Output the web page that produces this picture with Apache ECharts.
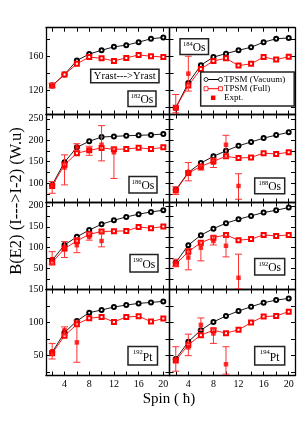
<!DOCTYPE html>
<html><head><meta charset="utf-8">
<script src="https://cdn.jsdelivr.net/npm/echarts@6/dist/echarts.min.js"></script>
<style>html,body{margin:0;padding:0;background:#fff}#c{width:299px;height:423px}</style>
</head><body><div id="c"></div>
<script>
// ---------- data ----------
const spins = [2, 4, 6, 8, 10, 12, 14, 16, 18, 20];
const xTickLabels = [4, 8, 12, 16, 20];
const nucleusMass = ['182', '184', '186', '188', '190', '192', '192', '194'];
const nucleusElem = ['Os', 'Os', 'Os', 'Os', 'Os', 'Os', 'Pt', 'Pt'];

const vac182 = [126, 139, 155.5, 163, 167.5, 171.5, 173.5, 177, 181, 182.5];
const full182 = [126, 139, 151.5, 159.5, 158, 155, 158.5, 162, 160.5, 159.5];
const exSpin182 = [2], exVal182 = [126], exLo182 = [123.5], exHi182 = [128.5];

const vac184 = [100, 129, 150, 159.5, 163.5, 167.5, 171, 177, 181, 182];
const full184 = [100, 126, 145.5, 155, 158, 149.5, 151.5, 159.5, 156.5, 160];
const exSpin184 = [2, 4], exVal184 = [99.5, 140], exLo184 = [94, 119.5], exHi184 = [115.5, 160.5];

const vac186 = [96, 149, 183.5, 197.5, 207.5, 209, 210.5, 211.5, 212.5, 214.5];
const full186 = [93.5, 143, 170, 176.5, 182, 179, 179.5, 182.5, 179.5, 183.5];
const exSpin186 = [2, 4, 6, 8, 10, 12], exVal186 = [92, 136.5, 184, 175.5, 189.5, 172];
const exLo186 = [76.5, 96, 176.5, 165, 152, 111], exHi186 = [104, 166, 192, 186, 234, 182];

const vac188 = [84.5, 125, 147, 162.5, 175.5, 187, 196, 205, 212, 218.5];
const full188 = [83, 123.5, 139, 151, 162.5, 158.5, 160, 170, 168, 172];
const exSpin188 = [2, 4, 6, 8, 10, 12], exVal188 = [83, 123.5, 135, 148, 189.5, 93.5];
const exLo188 = [73.5, 105.5, 131, 136.5, 160, 62.5], exHi188 = [92, 148, 140.5, 158.5, 211.5, 122];

const vac190 = [70, 106.5, 126, 142, 156, 165.5, 173.5, 180, 185.5, 189.5];
const full190 = [64.5, 98, 116, 132, 138.5, 139.5, 140, 149.5, 146.5, 150.5];
const exSpin190 = [2, 4, 6, 8, 10], exVal190 = [72.5, 96.5, 106, 126, 116];
const exLo190 = [60.5, 76.5, 88, 118, 102], exHi190 = [90.5, 114.5, 124, 136, 137.5];

const vac192 = [64.5, 106, 130, 145.5, 158.5, 168, 176, 184, 189.5, 196];
const full192 = [60.5, 90.5, 112, 124, 130.5, 118, 120.5, 130.5, 128, 130.5];
const exSpin192 = [2, 4, 6, 8, 10, 12], exVal192 = [64.5, 76.5, 100, 116, 104.5, 28];
const exLo192 = [55, 47, 68.5, 106.5, 78, 2], exHi192 = [72.5, 98, 114.5, 128, 128, 84.5];

const vac192Pt = [55, 85, 102.5, 115, 119, 123.5, 126.5, 129, 130.5, 132];
const full192Pt = [53.5, 80, 97.5, 106.5, 108.5, 101, 108.5, 109.5, 101.5, 106];
const exSpin192Pt = [2, 4, 6], exVal192Pt = [56, 88.5, 70], exLo192Pt = [45, 81, 40], exHi192Pt = [68.5, 93.5, 103.5];

const vac194Pt = [45, 71, 88.5, 101, 110, 117.5, 124, 130, 134, 136.5];
const full194Pt = [42.5, 66.5, 81, 88.5, 84, 89, 100, 109, 110, 116.5];
const exSpin194Pt = [2, 4, 6, 8, 10], exVal194Pt = [43.5, 62.5, 96.5, 83.5, 37];
const exLo194Pt = [26.5, 50, 88.5, 68.5, 22], exHi194Pt = [63.5, 82.5, 107, 91.5, 63.5];

// y axis per row
const rowMin = [92, 55, 0, 20];
const rowMax = [194, 260, 208, 150];
const rowTicks = [[100, 120, 140, 160, 180], [75, 100, 125, 150, 175, 200, 225, 250],
                  [25, 50, 75, 100, 125, 150, 175, 200], [25, 50, 75, 100, 125, 150]];
const rowLabels = [[120, 160], [100, 150, 200, 250], [50, 100, 150, 200], [50, 100, 150]];

// ---------- assemble ----------
const panels = [
  [vac182, full182, exSpin182, exVal182, exLo182, exHi182],
  [vac184, full184, exSpin184, exVal184, exLo184, exHi184],
  [vac186, full186, exSpin186, exVal186, exLo186, exHi186],
  [vac188, full188, exSpin188, exVal188, exLo188, exHi188],
  [vac190, full190, exSpin190, exVal190, exLo190, exHi190],
  [vac192, full192, exSpin192, exVal192, exLo192, exHi192],
  [vac192Pt, full192Pt, exSpin192Pt, exVal192Pt, exLo192Pt, exHi192Pt],
  [vac194Pt, full194Pt, exSpin194Pt, exVal194Pt, exLo194Pt, exHi194Pt]
];

const FONT = '"Liberation Serif", "Times New Roman", serif';
const colX = [[46, 169.5], [169.5, 295]];
const rowY = [[27.7, 114.5], [114.5, 202.5], [202.5, 289.5], [289.5, 375.5]];
const labelBoxes = [
  [128, 91, 28, 15.5], [180, 38.7, 28.5, 15.8], [129, 176.5, 28, 16.5], [254.7, 178, 30, 15.8],
  [130, 254.5, 28, 17.5], [254.7, 258.5, 30, 16.5], [128, 346.5, 29.5, 18.5], [254.7, 346.5, 30, 18.5]
];
const RED = '#ff0000';
const ERR = '#ff3030';

const grids = [], xAxes = [], yAxes = [], series = [];
const axisLine = { show: true, onZero: false, lineStyle: { color: '#000', width: 1.3 } };
for (let i = 0; i < 8; i++) {
  const r = Math.floor(i / 2), c = i % 2;
  grids.push({ left: colX[c][0], top: rowY[r][0], width: colX[c][1] - colX[c][0], height: rowY[r][1] - rowY[r][0] });
  ['bottom', 'top'].forEach((pos, k) => {
    xAxes.push({
      gridIndex: i, type: 'value', position: pos, min: 1, max: 21,
      axisLine: axisLine, splitLine: { show: false },
      axisTick: { show: true, inside: true, length: 4, customValues: spins, lineStyle: { color: '#000', width: 1 } },
      axisLabel: { show: k === 0 && r === 3, customValues: xTickLabels, margin: 4, color: '#000', fontSize: 10, fontFamily: FONT }
    });
  });
  ['left', 'right'].forEach((pos, k) => {
    yAxes.push({
      gridIndex: i, type: 'value', position: pos, min: rowMin[r], max: rowMax[r],
      axisLine: axisLine, splitLine: { show: false },
      axisTick: { show: true, inside: true, length: 4, customValues: rowTicks[r], lineStyle: { color: '#000', width: 1 } },
      axisLabel: { show: k === 0 && c === 0, customValues: rowLabels[r], margin: 2.5, color: '#000', fontSize: 10, fontFamily: FONT }
    });
  });
  const [vac, full, exS, exV, exL, exH] = panels[i];
  series.push({
    type: 'line', xAxisIndex: 2 * i, yAxisIndex: 2 * i, data: spins.map((s, j) => [s, vac[j]]),
    symbol: 'emptyCircle', symbolSize: 4, lineStyle: { color: '#000', width: 0.9 }, itemStyle: { color: '#000', borderWidth: 0.8 },
    animation: false, z: 3
  });
  series.push({
    type: 'line', xAxisIndex: 2 * i, yAxisIndex: 2 * i, data: spins.map((s, j) => [s, full[j]]),
    symbol: 'emptyRect', symbolSize: 4, lineStyle: { color: RED, width: 0.9 }, itemStyle: { color: RED, borderWidth: 0.8 },
    animation: false, z: 3
  });
  series.push({
    type: 'custom', xAxisIndex: 2 * i, yAxisIndex: 2 * i, data: exS.map((s, j) => [s, exL[j], exH[j]]),
    encode: { x: 0, y: [1, 2] }, animation: false, z: 4, clip: true,
    renderItem: function (params, api) {
      const x = api.value(0);
      const pLo = api.coord([x, api.value(1)]), pHi = api.coord([x, api.value(2)]);
      const w = 3.5, st = { stroke: ERR, lineWidth: 1 };
      return { type: 'group', children: [
        { type: 'line', shape: { x1: pLo[0], y1: pLo[1], x2: pHi[0], y2: pHi[1] }, style: st },
        { type: 'line', shape: { x1: pLo[0] - w, y1: pLo[1], x2: pLo[0] + w, y2: pLo[1] }, style: st },
        { type: 'line', shape: { x1: pHi[0] - w, y1: pHi[1], x2: pHi[0] + w, y2: pHi[1] }, style: st }
      ] };
    }
  });
  series.push({
    type: 'scatter', xAxisIndex: 2 * i, yAxisIndex: 2 * i, data: exS.map((s, j) => [s, exV[j]]),
    symbol: 'rect', symbolSize: 4.5, itemStyle: { color: RED }, animation: false, z: 5
  });
}

// ---------- decorations ----------
function txt(x, y, text, size, align, valign, extra) {
  return Object.assign({ type: 'text', x: x, y: y, z: 20,
    style: { text: text, font: size + 'px ' + FONT, fill: '#000', align: align, verticalAlign: valign,
             textAlign: align, textVerticalAlign: valign } }, extra || {});
}
const graphic = [];
labelBoxes.forEach((b, i) => {
  const [x, y, w, h] = b;
  graphic.push({ type: 'rect', z: 19, shape: { x: x, y: y, width: w, height: h },
    style: { fill: '#fff', stroke: '#222', lineWidth: 1.5 } });
  const supS = 6.5, mainS = 11.5;
  const supW = nucleusMass[i].length * 0.5 * supS;
  const mainW = (nucleusElem[i] === 'Os' ? 1.111 : 0.834) * mainS;
  const sx = x + (w - supW - mainW) / 2;
  graphic.push(txt(sx, y + 2.2, nucleusMass[i], supS, 'left', 'top'));
  graphic.push(txt(sx + supW, y + h - 0.8, nucleusElem[i], mainS, 'left', 'bottom'));
});
// Yrast box
graphic.push({ type: 'rect', z: 19, shape: { x: 90.7, y: 69.3, width: 68.3, height: 13.4 },
  style: { fill: '#fff', stroke: '#222', lineWidth: 1.5 } });
graphic.push(txt(124.8, 76.2, 'Yrast--->Yrast', 10.5, 'center', 'middle'));
// legend
graphic.push({ type: 'rect', z: 19, shape: { x: 200.7, y: 72, width: 93.5, height: 34 },
  style: { fill: '#fff', stroke: '#222', lineWidth: 1.5 } });
const lgY = [79.5, 88.7, 97.8];
graphic.push({ type: 'line', z: 20, shape: { x1: 206, y1: lgY[0], x2: 220.5, y2: lgY[0] }, style: { stroke: '#000', lineWidth: 1 } });
[206, 220.5].forEach(cx => graphic.push({ type: 'circle', z: 21, shape: { cx: cx, cy: lgY[0], r: 2 }, style: { fill: '#fff', stroke: '#000', lineWidth: 0.8 } }));
graphic.push({ type: 'line', z: 20, shape: { x1: 206, y1: lgY[1], x2: 220.5, y2: lgY[1] }, style: { stroke: RED, lineWidth: 1 } });
[206, 220.5].forEach(cx => graphic.push({ type: 'rect', z: 21, shape: { x: cx - 2, y: lgY[1] - 2, width: 4, height: 4 }, style: { fill: '#fff', stroke: RED, lineWidth: 0.8 } }));
graphic.push({ type: 'rect', z: 21, shape: { x: 210.9, y: lgY[2] - 2.25, width: 4.5, height: 4.5 }, style: { fill: RED } });
graphic.push(txt(224, lgY[0], 'TPSM (Vacuum)', 9, 'left', 'middle'));
graphic.push(txt(224, lgY[1], 'TPSM (Full)', 9, 'left', 'middle'));
graphic.push(txt(224, lgY[2], 'Expt.', 9, 'left', 'middle'));
// axis titles
graphic.push(txt(169, 399, 'Spin ( \u0127)', 15, 'center', 'middle'));
graphic.push(txt(17, 201, 'B(E2) (I--->I-2) (W.u)', 16.5, 'center', 'middle', { rotation: Math.PI / 2 }));

const chart = echarts.init(document.getElementById('c'), null, { renderer: 'canvas', width: 299, height: 423 });
chart.setOption({
  animation: false, backgroundColor: '#fff',
  grid: grids, xAxis: xAxes, yAxis: yAxes, series: series, graphic: graphic
});
</script></body></html>
